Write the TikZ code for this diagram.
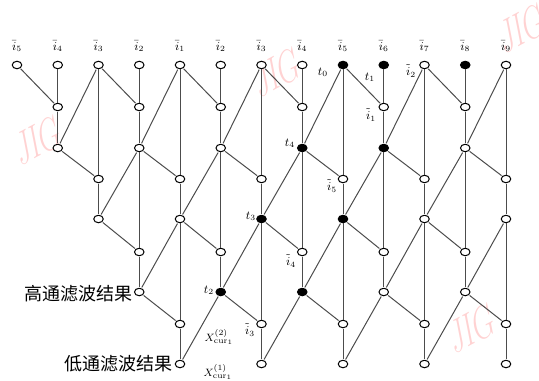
\documentclass[tikz,border=0pt]{standalone}
\usepackage{fontspec}
\newfontfamily\cjk{Noto Sans CJK SC}
\usetikzlibrary{shapes.geometric}
\begin{document}
\begin{tikzpicture}[x=0.75pt,y=-0.75pt,
  nd/.style={draw=black,fill=white,ellipse,minimum width=7.2pt,minimum height=5.6pt,inner sep=0pt,line width=0.75pt},
  ln/.style={draw=black!70,line width=0.75pt,shorten >=0.6pt,shorten <=0.6pt},
  lab/.style={font=\small,inner sep=0pt},
  xlab/.style={font=\footnotesize,inner sep=0pt},
  cjklab/.style={font=\cjk\fontsize{13.5pt}{14pt}\selectfont,inner sep=0pt},
  wm/.style={font=\fontsize{36pt}{36pt}\selectfont,text=red!35,opacity=0.5,xscale=0.6,rotate=18,inner sep=0pt},
  f8-0/.style={fill=black},f9-0/.style={fill=black},f11-0/.style={fill=black},
  f7-2/.style={fill=black},f9-2/.style={fill=black},
  f6-4/.style={fill=black},f8-4/.style={fill=black},
  f5-6/.style={fill=black},f7-6/.style={fill=black}]
\useasboundingbox (0,0) rectangle (539,380);
\clip (0,0) rectangle (539,380);
% watermarks
\node[wm] (w1) at (38,140) {JIG};
\node[wm] (w2) at (277,72) {JIG};
\node[wm] (w3) at (522,28) {JIG};
\node[wm] (w4) at (472,328) {JIG};
% nodes
\foreach \c in {0,...,12} \node[nd,f\c-0/.try] (n\c-0) at ({17+40.75*\c},65) {};
\foreach \c in {1,3,...,11} {
  \node[nd,f\c-1/.try] (n\c-1) at ({17+40.75*\c},107) {};
  \node[nd,f\c-2/.try] (n\c-2) at ({17+40.75*\c},148) {};}
\foreach \c in {2,4,...,12} {
  \node[nd,f\c-3/.try] (n\c-3) at ({17+40.75*\c},179) {};
  \node[nd,f\c-4/.try] (n\c-4) at ({17+40.75*\c},219) {};}
\foreach \c in {3,5,...,11} {
  \node[nd,f\c-5/.try] (n\c-5) at ({17+40.75*\c},252) {};
  \node[nd,f\c-6/.try] (n\c-6) at ({17+40.75*\c},292) {};}
\foreach \c in {4,6,...,12} {
  \node[nd,f\c-7/.try] (n\c-7) at ({17+40.75*\c},324) {};
  \node[nd,f\c-8/.try] (n\c-8) at ({17+40.75*\c},364) {};}
% vertical connectors
\foreach \c in {1,3,...,11} \draw[ln] (n\c-0) -- (n\c-1) -- (n\c-2);
\foreach \c in {3,5,...,11} \draw[ln] (n\c-2) -- (n\c-5) -- (n\c-6);
\foreach \c in {2,4,...,12} \draw[ln] (n\c-0) -- (n\c-3) -- (n\c-4);
\foreach \c in {4,6,...,12} \draw[ln] (n\c-4) -- (n\c-7) -- (n\c-8);
% diagonal connectors
\foreach \c in {1,3,...,11} {
  \pgfmathtruncatemacro\a{\c-1}\pgfmathtruncatemacro\b{\c+1}
  \draw[ln] (n\a-0) -- (n\c-1);
  \draw[ln] (n\b-0) -- (n\c-2);}
\foreach \c in {2,4,...,12} {
  \pgfmathtruncatemacro\a{\c-1}
  \draw[ln] (n\a-2) -- (n\c-3);}
\foreach \c in {2,4,...,10} {
  \pgfmathtruncatemacro\b{\c+1}
  \draw[ln] (n\b-2) -- (n\c-4);}
\foreach \c in {3,5,...,11} {
  \pgfmathtruncatemacro\a{\c-1}\pgfmathtruncatemacro\b{\c+1}
  \draw[ln] (n\a-4) -- (n\c-5);
  \draw[ln] (n\b-4) -- (n\c-6);}
\foreach \c in {4,6,...,12} {
  \pgfmathtruncatemacro\a{\c-1}
  \draw[ln] (n\a-6) -- (n\c-7);}
\foreach \c in {4,6,...,10} {
  \pgfmathtruncatemacro\b{\c+1}
  \draw[ln] (n\b-6) -- (n\c-8);}
% top labels
\foreach \c/\k in {0/5,1/4,2/3,3/2,4/1,5/2,6/3,7/4,8/5,9/6,10/7,11/8,12/9}
  \node[lab] (lt\c) at ({17+40.75*\c},46) {$\bar{i}_{\k}$};
% inner labels
\node[lab] (la0) at (323,72) {$t_0$};
\node[lab] (la1) at (370,77) {$t_1$};
\node[lab] (la2) at (411,71) {$\tilde{i}_2$};
\node[lab] (la3) at (371,115) {$\tilde{i}_1$};
\node[lab] (la4) at (290,143) {$t_4$};
\node[lab] (la5) at (332,186) {$\tilde{i}_5$};
\node[lab] (la6) at (251,216) {$t_3$};
\node[lab] (la7) at (291,261) {$\tilde{i}_4$};
\node[lab] (la8) at (209,290) {$t_2$};
\node[lab] (la9) at (250,330) {$\tilde{i}_3$};
\node[xlab] (lx1) at (219,337) {$X^{(2)}_{\mathrm{cur}_1}$};
\node[xlab] (lx2) at (218,372) {$X^{(1)}_{\mathrm{cur}_1}$};
\node[cjklab,anchor=east] (hp) at (133,294) {高通滤波结果};
\node[cjklab,anchor=east] (lp) at (173,364) {低通滤波结果};
\end{tikzpicture}
\end{document}
